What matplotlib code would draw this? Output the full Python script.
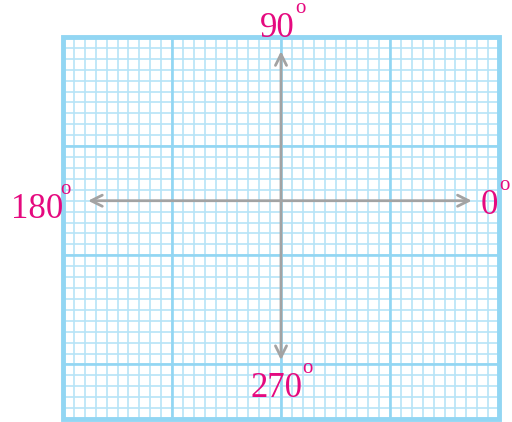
import matplotlib
matplotlib.use("Agg")
import matplotlib.pyplot as plt
import numpy as np

# grid in cell units
n_cols = 40
n_rows = 35
origin = (20, 20)
major_x = [0, 10, 20, 30, 40]
major_y = [5, 15, 25, 35]
angles = ["0", "90", "180", "270"]

W, H = 512, 422
fig = plt.figure(figsize=(W/100, H/100), dpi=100)
L, R, T, B = 63, 499, 37, 419
ax = fig.add_axes([L/W, 1-B/H, (R-L)/W, (B-T)/H])
ax.set_xlim(0, n_cols)
ax.set_ylim(0, n_rows)
ax.axis('off')

minor_c = '#b6e4f7'
major_c = '#92d6f3'
for x in range(n_cols+1):
    ax.axvline(x, color=minor_c, lw=1.2, zorder=1)
for y in range(n_rows+1):
    ax.axhline(y, color=minor_c, lw=1.2, zorder=1)
for x in major_x:
    ax.axvline(x, color=major_c, lw=1.9, zorder=2)
for y in major_y:
    ax.axhline(y, color=major_c, lw=1.9, zorder=2)
ax.add_patch(plt.Rectangle((0, 0), n_cols, n_rows, fill=False, ec=major_c, lw=3.5, zorder=3, clip_on=False))

ox, oy = origin
arrow_c = '#a3a3a3'
ends = [(37.5, oy), (ox, 33.7), (2.3, oy), (ox, 5.4)]
for ex, ey in ends:
    ax.annotate('', xy=(ex, ey), xytext=(ox, oy),
                arrowprops=dict(arrowstyle='->,head_length=0.8,head_width=0.4', color=arrow_c, lw=2, shrinkA=0, shrinkB=0), zorder=5)

tc = '#e5097f'
fs = 25
fig.canvas.draw()
renderer = fig.canvas.get_renderer()

def lab(txt, px, py, gap):
    t = fig.text(px/W, 1-py/H, txt, color=tc, fontsize=fs,
                 family='Liberation Serif', ha='left', va='baseline', zorder=6)
    bb = t.get_window_extent(renderer)
    fig.text((bb.x1 + gap)/W, 1-(py-24)/H, 'o', color=tc, fontsize=15,
             family='Liberation Serif', ha='left', va='baseline', zorder=6)

lab(angles[0], 481, 214, 1)
lab(angles[1], 260, 37, 0)
lab(angles[2], 11, 218, -3)
lab(angles[3], 251, 397, -1)

fig.savefig('out.png', dpi=100)
